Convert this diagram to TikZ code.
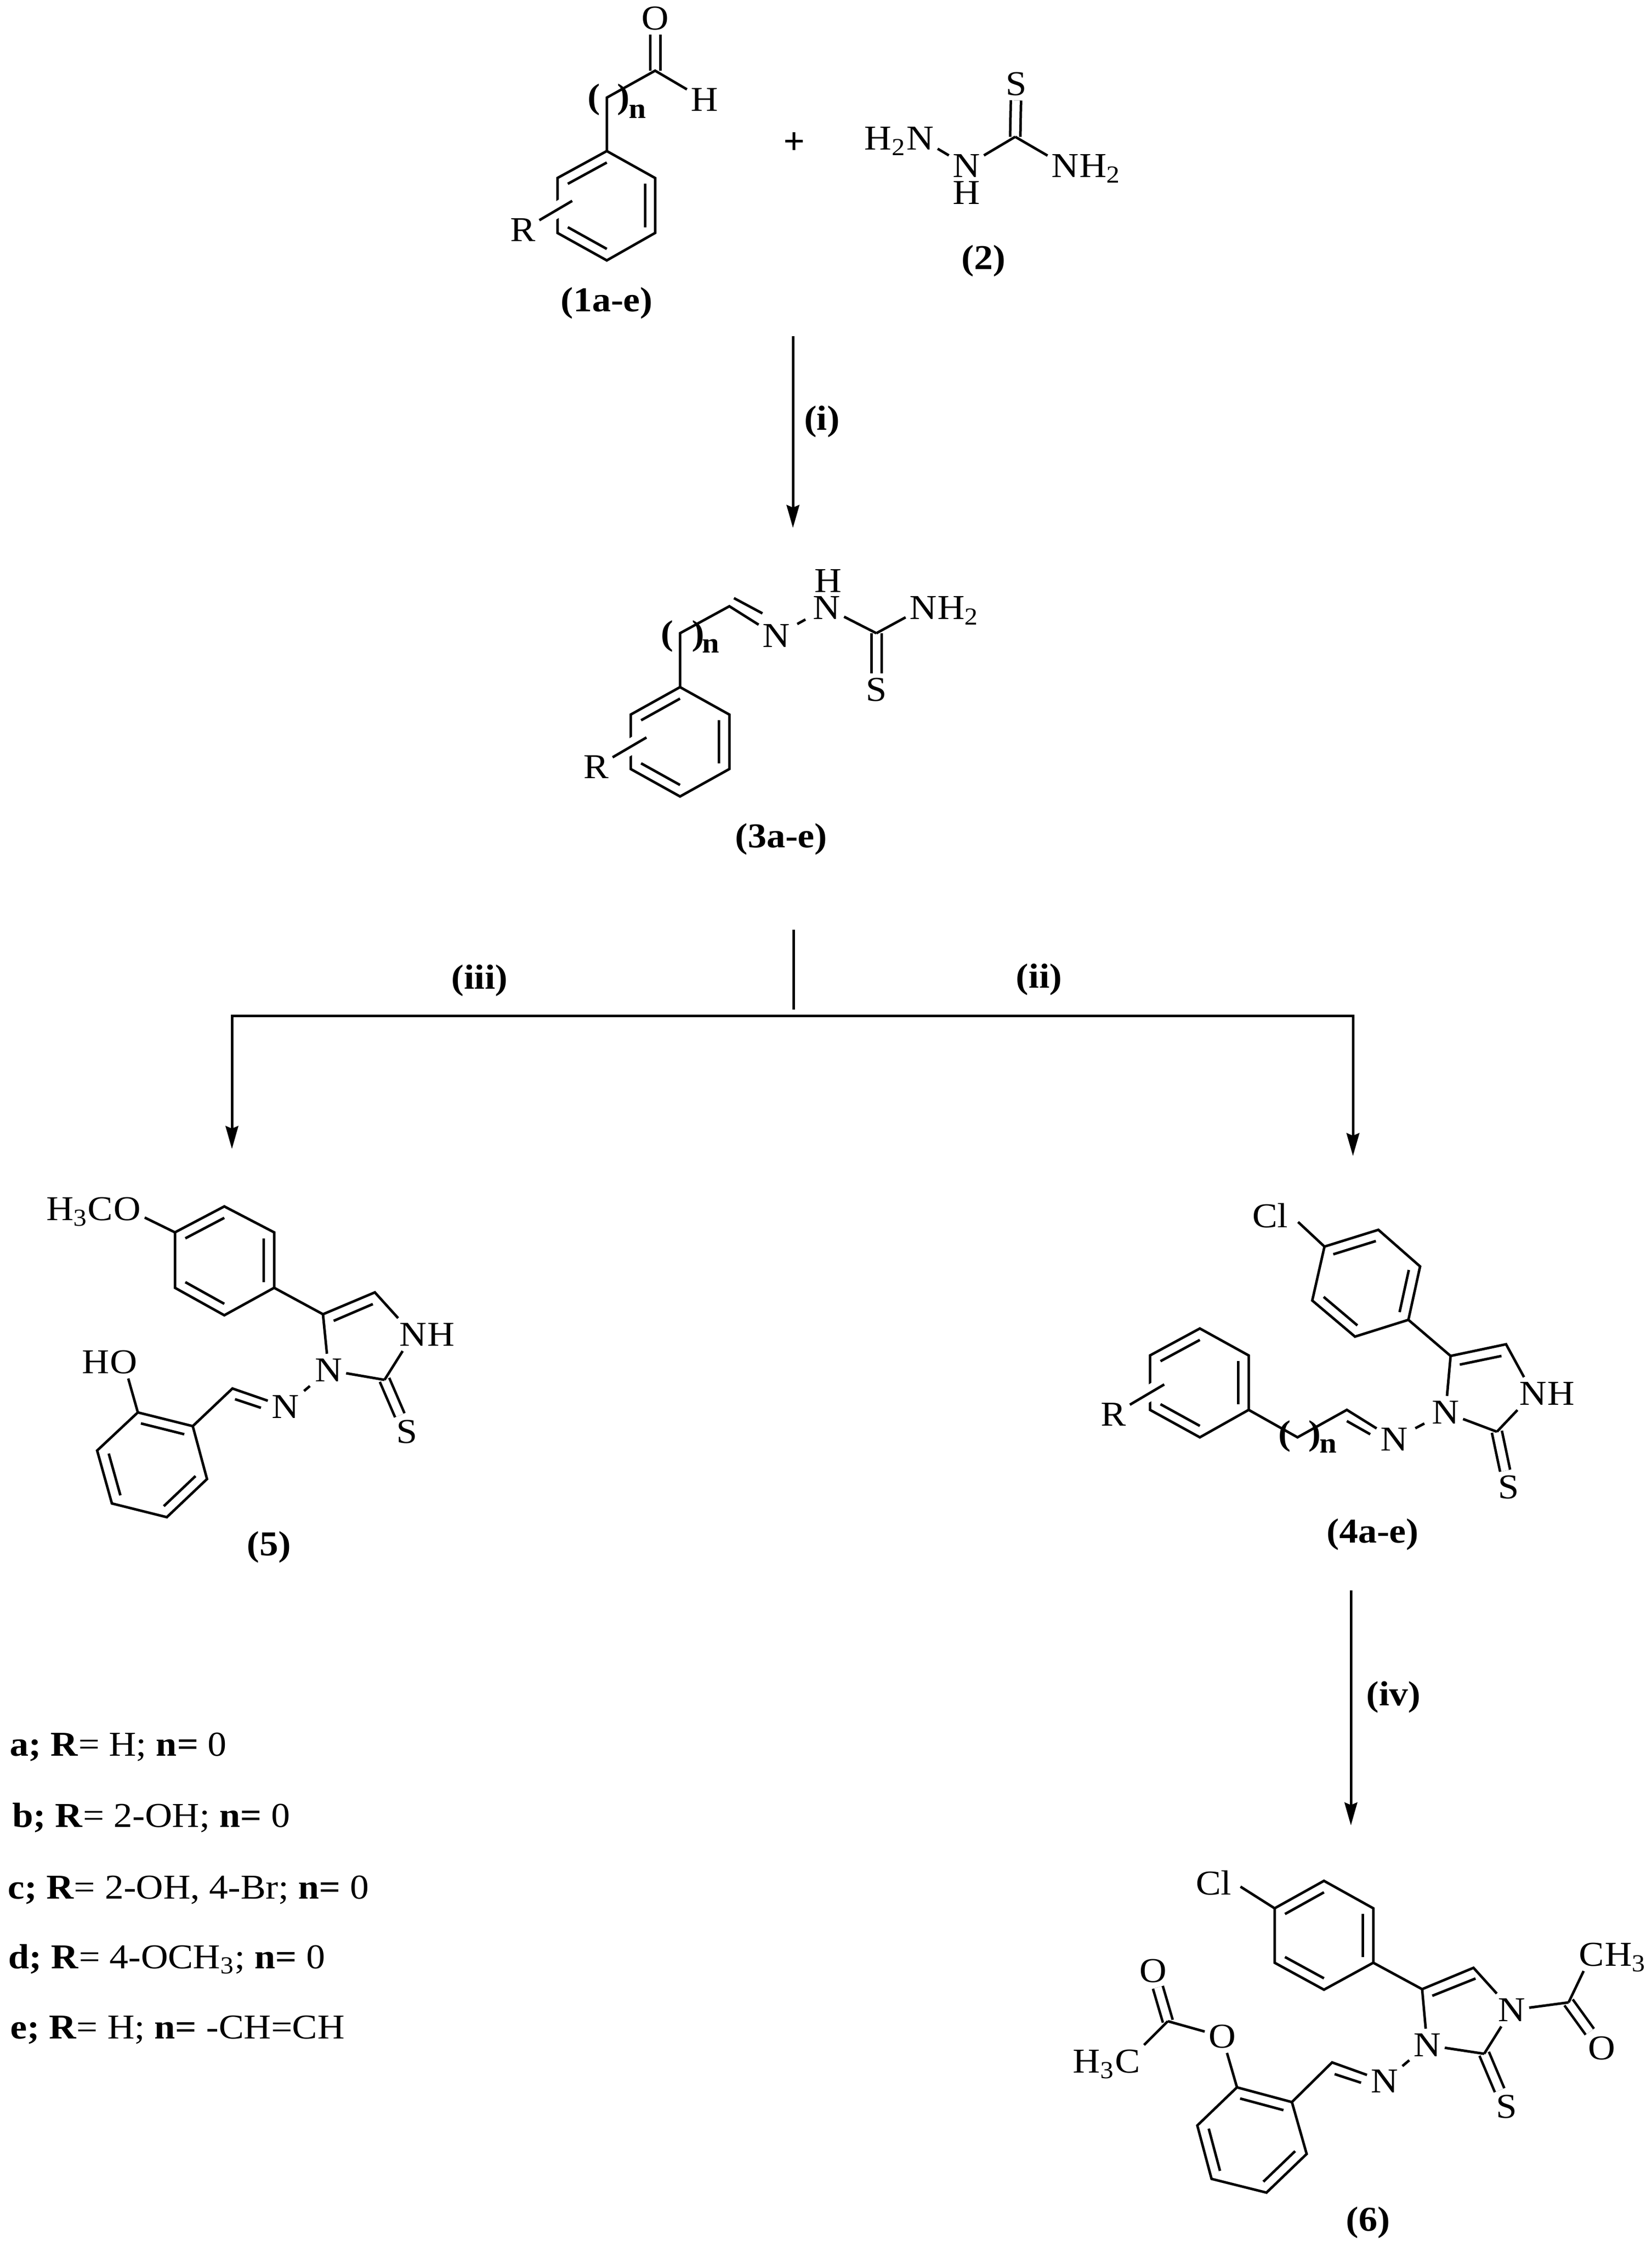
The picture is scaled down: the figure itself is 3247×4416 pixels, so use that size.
\documentclass[tikz,border=0pt]{standalone}
\usepackage{fontspec}
\setmainfont[FakeStretch=1.08]{Liberation Serif}
\newfontfamily\heavyfont[FakeBold=2.5]{Liberation Serif}
\usetikzlibrary{calc,positioning,arrows.meta}

\newcommand{\chemsize}{\fontsize{19.5}{23}\selectfont}

\tikzset{
	atom/.style={font=\chemsize, inner xsep=2pt, inner ysep=2.5pt, text height=13pt, text depth=0pt},
	tail/.style={atom, inner xsep=0pt},
	parn/.style={font=\chemsize\bfseries, inner sep=0pt},
	subn/.style={font=\fontsize{16}{19}\selectfont\bfseries, inner sep=0pt},
	cmpd/.style={font=\chemsize\bfseries, inner sep=0pt},
	legline/.style={font=\chemsize, inner sep=0pt, anchor=base west},
	bond/.style={line width=.05cm},
	nnbond/.style={bond, shorten >=#1, shorten <=#1},
	nnbond/.default=.08cm,
	dblbond/.style={line width=.05cm, double, double distance=.15cm},
	rbond/.style={bond, preaction={draw=white, line width=.31cm}},
	rxn/.style={line width=.05cm, -{Stealth[length=.45cm, width=.25cm, inset=.05cm]}},
}

\newcommand{\benzring}[1]{
	\draw[bond] (#11) -- (#12) -- (#13) -- (#14) -- (#15) -- (#16) -- cycle;
	\coordinate (#1c) at ($(#11)!.5!(#14)$);
	\foreach \a/\b in {1/2,3/4,5/6}
		\draw[bond] ($(#1\a)!.21!(#1c)$) -- ($(#1\b)!.21!(#1c)$);
}

\begin{document}
\begin{tikzpicture}[x=.01cm, y=-.01cm]
	\useasboundingbox (0,0) rectangle (3247,4416);

	% 1a-e
	\path (1193,297) coordinate (ar1) (1096,350) coordinate (ar2) (1096,458) coordinate (ar3)
		(1193,512) coordinate (ar4) (1288,458) coordinate (ar5) (1288,350) coordinate (ar6);
	\coordinate (ach2) at (1193,192);
	\coordinate (acho) at (1288,139);
	\coordinate (arin) at (1125,395);
	\node[atom] (ao) at (1288,36) {O};
	\node[atom] (ah) at (1385,196) {H};
	\node[atom] (ar) at (1028,452) {R};
	\node[parn] (apl) at (1168,196) {(};
	\node[parn] (apr) at (1226,196) {)};
	\node[subn] (an) at (1253,219) {n};
	\node[cmpd] (alab) at (1193,596) {(1a-e)};
	\benzring{ar}
	\draw[dblbond] (acho) -- (ao);
	\draw[bond] (ar1) -- (ach2) -- (acho) -- (ah);
	\draw[rbond] (ar) -- (arin);

	\node[font=\fontsize{20}{24}\selectfont\heavyfont, inner sep=0pt] (plus) at (1561,281) {+};

	% 2
	\coordinate (bc) at (1996,269);
	\node[atom] (bn1) at (1809,272) {N};
	\node[tail, left=-2pt of bn1] (bh1) {H\textsubscript{2}};
	\node[atom] (bn2) at (1900,326) {N};
	\node[tail] (bh2) at (1900,379) {H};
	\node[atom] (bn3) at (2094,326) {N};
	\node[tail, right=-2pt of bn3] (bh3) {H\textsubscript{2}};
	\node[atom] (bs) at (1998,165) {S};
	\node[cmpd] (blab) at (1934,513) {(2)};
	\draw[dblbond] (bc) -- (bs);
	\draw[bond] (bn1) -- (bn2);
	\draw[bond] (bn2) -- (bc);
	\draw[bond] (bc) -- (bn3);

	% (i)
	\coordinate (i1) at (1559,661);
	\coordinate (i2) at (1559,1038);
	\draw[rxn] (i1) -- (i2);
	\node[cmpd] (ilab) at (1616,829) {(i)};

	% 3a-e
	\path (1337,1351) coordinate (cr1) (1240,1405) coordinate (cr2) (1240,1512) coordinate (cr3)
		(1337,1566) coordinate (cr4) (1434,1512) coordinate (cr5) (1434,1405) coordinate (cr6);
	\coordinate (cch2) at (1337,1245);
	\coordinate (cch) at (1434,1192);
	\coordinate (cc) at (1723,1245);
	\coordinate (cd1) at (1443,1176);
	\coordinate (cd2) at (1499,1206);
	\coordinate (crin) at (1271,1450);
	\node[atom] (cn1) at (1526,1250) {N};
	\node[atom] (cn2) at (1625,1195) {N};
	\node[tail] (ch2) at (1628,1142) {H};
	\node[atom] (cn3) at (1815,1195) {N};
	\node[tail, right=-2pt of cn3] (ch3) {H\textsubscript{2}};
	\node[atom] (cs) at (1723,1356) {S};
	\node[atom] (cr) at (1172,1508) {R};
	\node[parn] (cpl) at (1312,1251) {(};
	\node[parn] (cpr) at (1373,1251) {)};
	\node[subn] (cnn) at (1397,1270) {n};
	\node[cmpd] (clab) at (1536,1650) {(3a-e)};
	\benzring{cr}
	\draw[dblbond] (cc) -- (cs);
	\draw[bond] (cr1) -- (cch2) -- (cch) -- (cn1);
	\draw[bond] (cd1) -- (cd2);
	\draw[nnbond] (cn1) -- (cn2);
	\draw[bond] (cn2) -- (cc);
	\draw[bond] (cc) -- (cn3);
	\draw[rbond] (cr) -- (crin);

	% (ii), (iii)
	\coordinate (j1) at (1560,1828);
	\coordinate (j2) at (1560,1985);
	\coordinate (j3) at (1560,1997);
	\coordinate (tipl) at (456,2259);
	\coordinate (tipr) at (2660,2273);
	\draw[line width=.05cm] (j1) -- (j2);
	\draw[rxn] (j3) -| (tipl);
	\draw[rxn] (j3) -| (tipr);
	\node[cmpd] (iiilab) at (943,1928) {(iii)};
	\node[cmpd] (iilab) at (2043,1926) {(ii)};

	% 5
	\path (441,2372) coordinate (er1) (344,2423) coordinate (er2) (344,2532) coordinate (er3)
		(441,2586) coordinate (er4) (539,2532) coordinate (er5) (539,2423) coordinate (er6);
	\path (379,2804) coordinate (es1) (271,2777) coordinate (es2) (191,2852) coordinate (es3)
		(220,2956) coordinate (es4) (328,2983) coordinate (es5) (407,2908) coordinate (es6);
	\coordinate (ec5) at (635,2584);
	\coordinate (ec4) at (737,2541);
	\coordinate (ec2) at (756,2713);
	\coordinate (ech) at (457,2730);
	\coordinate (ed1) at (656,2597);
	\coordinate (ed2) at (733,2564);
	\coordinate (ed3) at (462,2751);
	\coordinate (ed4) at (513,2768);
	\node[atom] (eo1) at (250,2377) {O};
	\node[tail, left=-2pt of eo1] (eme) {H\textsubscript{3}C};
	\node[atom] (eo2) at (243,2678) {O};
	\node[tail, left=-2pt of eo2] (eh) {H};
	\node[atom] (enh) at (812,2624) {N};
	\node[tail, right=-2pt of enh] (enhh) {H};
	\node[atom] (en3) at (646,2694) {N};
	\node[atom] (enim) at (561,2766) {N};
	\node[atom] (es) at (800,2815) {S};
	\node[cmpd] (elab) at (529,3042) {(5)};
	\benzring{er}
	\benzring{es}
	\draw[dblbond] (ec2) -- (es);
	\draw[bond] (eo1) -- (er2);
	\draw[bond] (er5) -- (ec5) -- (ec4) -- (enh);
	\draw[bond] (ec5) -- (en3);
	\draw[bond] (en3) -- (ec2);
	\draw[bond] (enh) -- (ec2);
	\draw[bond] (ed1) -- (ed2);
	\draw[nnbond=.03cm] (enim) -- (en3);
	\draw[bond] (es1) -- (ech) -- (enim);
	\draw[bond] (ed3) -- (ed4);
	\draw[bond] (eo2) -- (es2);

	% 4a-e
	\path (2604,2451) coordinate (dr1) (2710,2418) coordinate (dr2) (2792,2490) coordinate (dr3)
		(2769,2595) coordinate (dr4) (2664,2628) coordinate (dr5) (2580,2557) coordinate (dr6);
	\path (2359,2612) coordinate (ds1) (2261,2665) coordinate (ds2) (2261,2772) coordinate (ds3)
		(2359,2826) coordinate (ds4) (2455,2772) coordinate (ds5) (2455,2665) coordinate (ds6);
	\coordinate (dc5) at (2852,2666);
	\coordinate (dc4) at (2961,2643);
	\coordinate (dc2) at (2943,2815);
	\coordinate (dch) at (2648,2772);
	\coordinate (dch2) at (2551,2826);
	\coordinate (dd1) at (2870,2683);
	\coordinate (dd2) at (2952,2666);
	\coordinate (dd3) at (2648,2794);
	\coordinate (dd4) at (2694,2820);
	\coordinate (dsin) at (2289,2722);
	\node[atom] (dcl) at (2497,2391) {Cl};
	\node[atom] (dnh) at (3014,2740) {N};
	\node[tail, right=-2pt of dnh] (dnhh) {H};
	\node[atom] (dn3) at (2842,2777) {N};
	\node[atom] (dnim) at (2741,2830) {N};
	\node[atom] (ds) at (2966,2924) {S};
	\node[atom] (dr) at (2189,2781) {R};
	\node[parn] (dpl) at (2526,2824) {(};
	\node[parn] (dpr) at (2585,2824) {)};
	\node[subn] (dnn) at (2611,2843) {n};
	\node[cmpd] (dlab) at (2699,3017) {(4a-e)};
	\benzring{dr}
	\benzring{ds}
	\draw[dblbond] (dc2) -- (ds);
	\draw[bond, shorten >=.17cm] (dr1) -- (dcl.east);
	\draw[bond] (dr4) -- (dc5) -- (dc4) -- (dnh);
	\draw[bond] (dc5) -- (dn3);
	\draw[bond] (dn3) -- (dc2);
	\draw[bond] (dnh) -- (dc2);
	\draw[bond] (dd1) -- (dd2);
	\draw[nnbond] (dnim) -- (dn3);
	\draw[bond] (ds5) -- (dch2) -- (dch) -- (dnim);
	\draw[bond] (dd3) -- (dd4);
	\draw[rbond] (dr) -- (dsin);

	% (iv)
	\coordinate (k1) at (2656,3127);
	\coordinate (k2) at (2656,3589);
	\draw[rxn] (k1) -- (k2);
	\node[cmpd] (ivlab) at (2740,3337) {(iv)};

	% 6
	\path (2506,3752) coordinate (fr1) (2603,3698) coordinate (fr2) (2700,3752) coordinate (fr3)
		(2700,3859) coordinate (fr4) (2603,3912) coordinate (fr5) (2506,3859) coordinate (fr6);
	\path (2540,4133) coordinate (fs1) (2432,4104) coordinate (fs2) (2354,4179) coordinate (fs3)
		(2382,4284) coordinate (fs4) (2490,4311) coordinate (fs5) (2569,4235) coordinate (fs6);
	\coordinate (fc5) at (2796,3911);
	\coordinate (fc4) at (2897,3869);
	\coordinate (fc2) at (2918,4038);
	\coordinate (fch) at (2619,4055);
	\coordinate (fcl1) at (2296,3974);
	\coordinate (fcr) at (3084,3937);
	\coordinate (fd1) at (2816,3924);
	\coordinate (fd2) at (2901,3890);
	\coordinate (fd3) at (2624,4078);
	\coordinate (fd4) at (2676,4095);
	\node[atom] (fcl) at (2386,3703) {Cl};
	\node[atom] (fn1) at (2972,3952) {N};
	\node[atom] (fn3) at (2806,4021) {N};
	\node[atom] (fnim) at (2722,4092) {N};
	\node[atom] (fs) at (2962,4142) {S};
	\node[atom] (fo1) at (2403,4004) {O};
	\node[atom] (fo2) at (2267,3875) {O};
	\node[atom] (fo3) at (3149,4027) {O};
	\node[atom] (fme1) at (2217,4053) {C};
	\node[tail, left=-2pt of fme1] (fme1h) {H\textsubscript{3}};
	\node[atom] (fme2) at (3129,3843) {C};
	\node[tail, right=-2pt of fme2] (fme2h) {H\textsubscript{3}};
	\node[cmpd] (flab) at (2690,4370) {(6)};
	\benzring{fr}
	\benzring{fs}
	\draw[dblbond] (fc2) -- (fs);
	\draw[dblbond] (fcl1) -- (fo2);
	\draw[dblbond] (fcr) -- (fo3);
	\draw[bond, shorten >=.12cm] (fr1) -- (fcl.east);
	\draw[bond] (fr4) -- (fc5) -- (fc4) -- (fn1);
	\draw[bond] (fc5) -- (fn3);
	\draw[bond] (fn3) -- (fc2);
	\draw[bond] (fn1) -- (fc2);
	\draw[bond] (fd1) -- (fd2);
	\draw[nnbond=.01cm] (fnim) -- (fn3);
	\draw[bond] (fs1) -- (fch) -- (fnim);
	\draw[bond] (fd3) -- (fd4);
	\draw[bond] (fo1) -- (fs2);
	\draw[bond] (fo1) -- (fcl1);
	\draw[bond] (fcl1) -- (fme1);
	\draw[bond] (fn1) -- (fcr);
	\draw[bond] (fcr) -- (fme2);

	% legend
	\node[legline] (lega) at (19,3452) {\textbf{a; R}= H; \textbf{n=} 0};
	\node[legline] (legb) at (24,3592) {\textbf{b; R}= 2-OH; \textbf{n=} 0};
	\node[legline] (legc) at (15,3733) {\textbf{c; R}= 2-OH, 4-Br; \textbf{n=} 0};
	\node[legline] (legd) at (16,3870) {\textbf{d; R}= 4-OCH\textsubscript{3}; \textbf{n=} 0};
	\node[legline] (lege) at (20,4008) {\textbf{e; R}= H; \textbf{n=} -CH=CH};

\end{tikzpicture}
\end{document}
